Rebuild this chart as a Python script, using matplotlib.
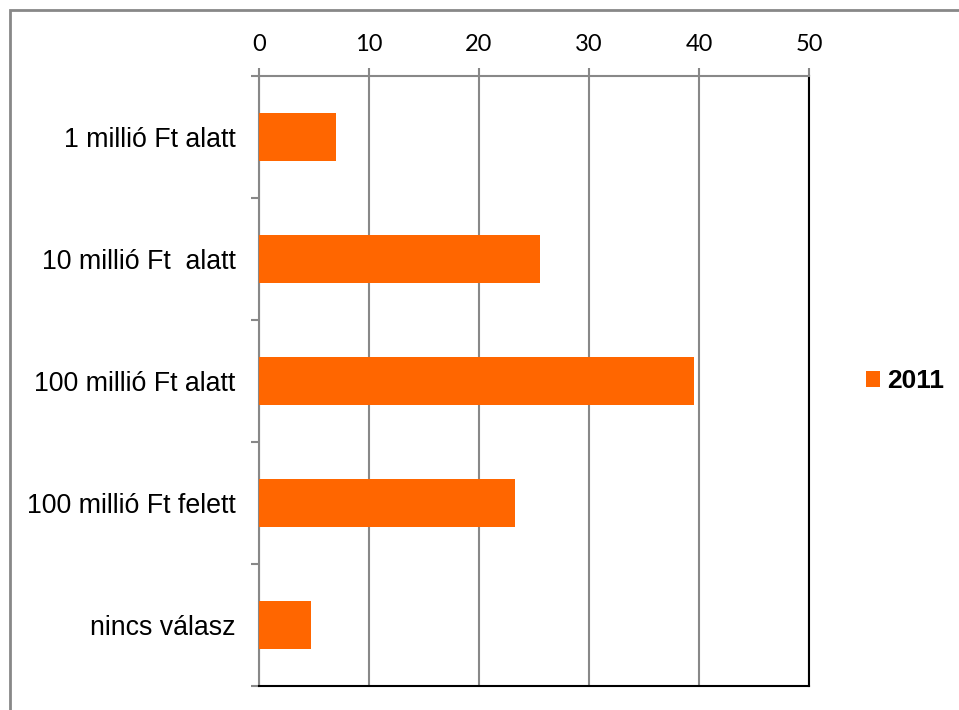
import matplotlib
matplotlib.use('Agg')
import matplotlib.pyplot as plt
from matplotlib.patches import Rectangle
import numpy as np

# Data
categories = ['1 millió Ft alatt', '10 millió Ft  alatt', '100 millió Ft alatt',
              '100 millió Ft felett', 'nincs válasz']
values_2011 = [7.0, 25.5, 39.5, 23.3, 4.7]
series_name = '2011'
x_ticks = [0, 10, 20, 30, 40, 50]

bar_color = '#ff6600'
grid_color = '#888888'

fig = plt.figure(figsize=(9.59, 7.10), dpi=100)
ax = fig.add_axes([259 / 959, 1 - 686 / 710, 550 / 959, 610 / 710])

y = np.arange(len(categories))
ax.barh(y, values_2011, height=0.4, color=bar_color, zorder=3, label=series_name)

ax.set_xlim(0, 50)
ax.set_ylim(len(categories) - 0.5, -0.5)

# x axis on top
ax.xaxis.set_ticks_position('top')
ax.xaxis.set_label_position('top')
ax.set_xticks(x_ticks)
ax.set_xticklabels([str(t) for t in x_ticks], fontsize=17, family=['Lato', 'DejaVu Sans'])
ax.tick_params(axis='x', direction='out', length=6, width=1.5, color=grid_color, pad=9)

# category labels, ticks between bars
ax.set_yticks(y)
ax.set_yticklabels(categories, fontsize=19.3, family=['Liberation Sans', 'DejaVu Sans'])
ax.tick_params(axis='y', which='major', length=0, pad=17)
ax.set_yticks(np.arange(-0.5, len(categories)), minor=True)
ax.tick_params(axis='y', which='minor', direction='out', length=6, width=1.5, color=grid_color)

ax.grid(axis='x', color=grid_color, linewidth=1.5, zorder=0)
ax.set_axisbelow(True)

ax.spines['top'].set_color(grid_color)
ax.spines['top'].set_linewidth(1.5)
ax.spines['left'].set_color(grid_color)
ax.spines['left'].set_linewidth(1.5)
ax.spines['right'].set_color('black')
ax.spines['right'].set_linewidth(1.5)
ax.spines['bottom'].set_color('black')
ax.spines['bottom'].set_linewidth(1.5)

leg = ax.legend(loc='center left', bbox_to_anchor=(1.06, 0.5), frameon=False,
                handlelength=0.55, handleheight=0.55, handletextpad=0.25,
                prop={'family': ['Liberation Sans', 'DejaVu Sans'], 'weight': 'bold', 'size': 19})

# outer chart frame
fig.add_artist(Rectangle((9.5 / 959, -0.1), 2, 1 - 10 / 710 + 0.1,
                         transform=fig.transFigure, fill=False,
                         edgecolor=grid_color, linewidth=2))

fig.savefig('out.png', dpi=100)
